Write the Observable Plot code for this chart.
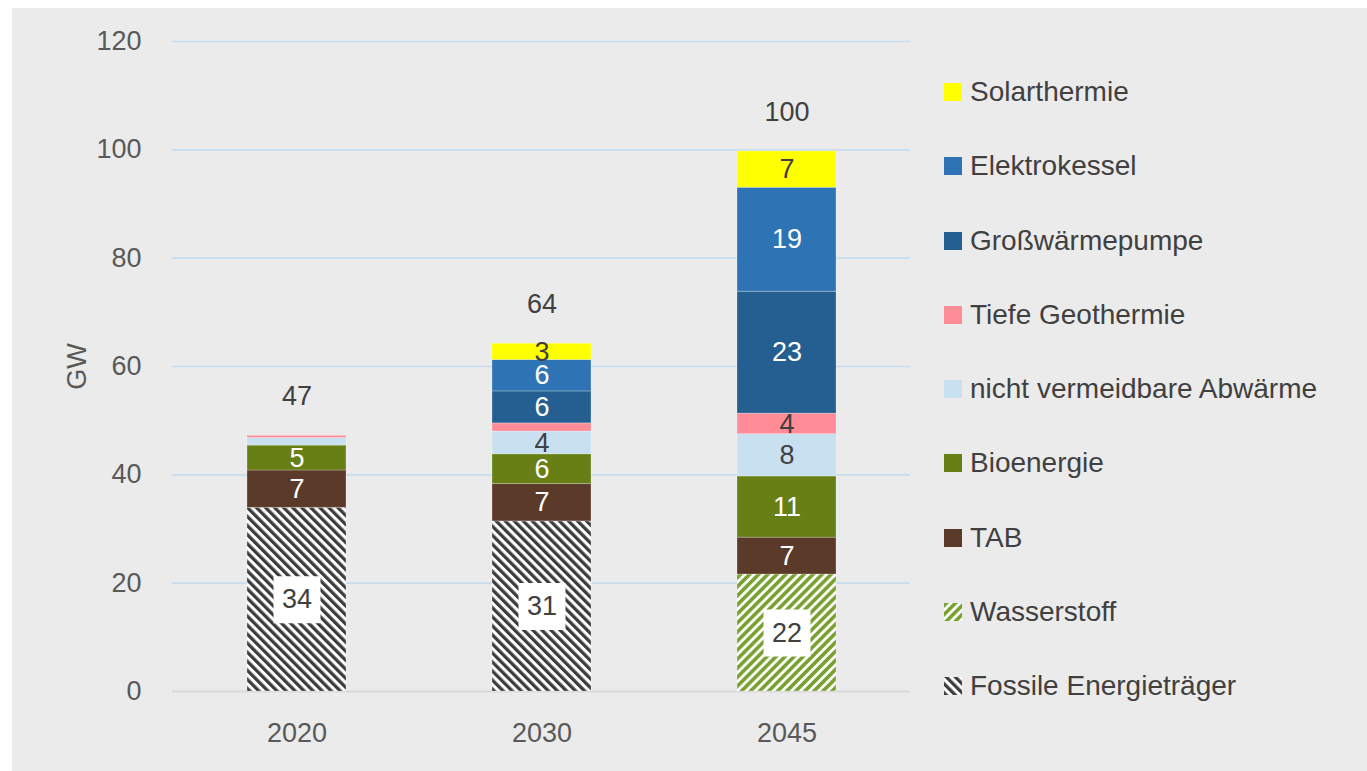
<!DOCTYPE html>
<html><head><meta charset="utf-8">
<script src="https://cdn.jsdelivr.net/npm/d3@7"></script>
<script src="https://cdn.jsdelivr.net/npm/@observablehq/plot@0.6"></script>
<style>
html,body{margin:0;padding:0;background:#fff;}
#bg{position:absolute;left:12px;top:8px;width:1355px;height:763px;background:#EBEBEB}
#chart{position:absolute;left:0;top:0}
#legend{position:absolute;left:944px;top:0}
.item{position:absolute;left:0;height:30px;display:flex;align-items:center;white-space:nowrap;font:28px "Liberation Sans",Arial,sans-serif;color:#404040}
.item svg{margin-right:8px;flex:none}
</style></head><body>
<svg width="0" height="0" style="position:absolute">
<defs>
<pattern id="pFossil" patternUnits="userSpaceOnUse" width="6.4" height="6.4" patternTransform="rotate(-45)"><rect width="6.4" height="6.4" fill="#ffffff"/><rect width="3.3" height="6.4" fill="#3c3c3c"/></pattern>
<pattern id="pH2" patternUnits="userSpaceOnUse" width="6.4" height="6.4" patternTransform="rotate(45)"><rect width="6.4" height="6.4" fill="#ffffff"/><rect width="3.6" height="6.4" fill="#78A22F"/></pattern>
</defs>
</svg>
<div id="bg"></div><div id="chart"></div><div id="legend"></div>
<script>
const years = ["2020", "2030", "2045"];
// bottom to top stacking order
const seriesNames = ["Fossile Energieträger", "Wasserstoff", "TAB", "Bioenergie", "nicht vermeidbare Abwärme", "Tiefe Geothermie", "Großwärmepumpe", "Elektrokessel", "Solarthermie"];
const fossil     = [33.9, 31.4, 0];
const wasserstoff= [0, 0, 21.6];
const tab        = [6.9, 6.9, 6.8];
const bio        = [4.6, 5.5, 11.3];
const abwaerme   = [1.4, 4.2, 7.8];
const geo        = [0.4, 1.5, 3.8];
const waermepumpe= [0, 5.9, 22.5];
const elektro    = [0, 5.8, 19.2];
const solar      = [0, 3.0, 6.7];
const values = [fossil, wasserstoff, tab, bio, abwaerme, geo, waermepumpe, elektro, solar];
const fills = ["url(#pFossil)", "url(#pH2)", "#5B3A29", "#677F14", "#C8E0F0", "#FF8C96", "#255E91", "#2E74B5", "#FFFF00"];
const darkLabelSeries = ["Solarthermie", "Tiefe Geothermie", "nicht vermeidbare Abwärme"];
const boxedSeries = ["Fossile Energieträger", "Wasserstoff"];
const legendOrder = ["Solarthermie", "Elektrokessel", "Großwärmepumpe", "Tiefe Geothermie", "nicht vermeidbare Abwärme", "Bioenergie", "TAB", "Wasserstoff", "Fossile Energieträger"];

const rows = [];
const totals = [];
years.forEach((yr, j) => {
  let acc = 0;
  seriesNames.forEach((s, k) => {
    const v = values[k][j];
    if (v > 0) rows.push({year: yr, series: s, y1: acc, y2: acc + v, v, mid: acc + v / 2});
    acc += v;
  });
  totals.push({year: yr, total: acc, label: String(Math.round(acc))});
});
const labeled = rows.filter(d => d.v >= 2);
const font = '"Liberation Sans", Arial, sans-serif';

const chart = Plot.plot({
  width: 930, height: 771,
  marginLeft: 172, marginRight: 20, marginTop: 41, marginBottom: 80,
  style: {background: "transparent", fontFamily: font, fontSize: "27px", color: "#595959", overflow: "visible"},
  x: {domain: years, paddingInner: 0.597, paddingOuter: 0.3, label: null},
  y: {domain: [0, 120], label: "GW"},
  color: {domain: seriesNames, range: fills},
  marks: [
    Plot.gridY([20, 40, 60, 80, 100, 120], {stroke: "#C5DDEE", strokeOpacity: 1, strokeWidth: 1.6}),
    Plot.ruleY([0], {stroke: "#D9D9D9", strokeWidth: 2}),
    Plot.barY(rows, {x: "year", y1: "y1", y2: "y2", fill: "series", stroke: "#ffffff", strokeOpacity: 0.25, strokeWidth: 1}),
    Plot.dot(labeled.filter(d => boxedSeries.includes(d.series)), {x: "year", y: "mid", symbol: "square", r: 26.5, fill: "#ffffff"}),
    Plot.text(labeled.filter(d => boxedSeries.includes(d.series) || darkLabelSeries.includes(d.series)), {x: "year", y: "mid", text: d => String(Math.round(d.v)), fill: "#404040", fontSize: 27, fontFamily: font}),
    Plot.text(labeled.filter(d => !boxedSeries.includes(d.series) && !darkLabelSeries.includes(d.series)), {x: "year", y: "mid", text: d => String(Math.round(d.v)), fill: "#ffffff", fontSize: 27, fontFamily: font}),
    Plot.text(totals, {x: "year", y: "total", text: "label", dy: -39, fill: "#404040", fontSize: 27, fontFamily: font}),
    Plot.axisY([0, 20, 40, 60, 80, 100, 120], {tickSize: 0, tickPadding: 31, fontSize: 27, label: "GW", labelAnchor: "center", labelOffset: 106, labelArrow: "none"}),
    Plot.axisX({tickSize: 0, tickPadding: 31, fontSize: 27, label: null})
  ]
});
document.getElementById("chart").appendChild(chart);

const legend = document.getElementById("legend");
legendOrder.forEach((name, i) => {
  const k = seriesNames.indexOf(name);
  const item = document.createElement("div");
  item.className = "item";
  item.style.top = (92 + i * 74.25 - 15) + "px";
  item.innerHTML = `<svg width="18" height="18"><rect width="18" height="18" fill="${fills[k]}"/></svg><span>${name}</span>`;
  legend.appendChild(item);
});
</script></body></html>
